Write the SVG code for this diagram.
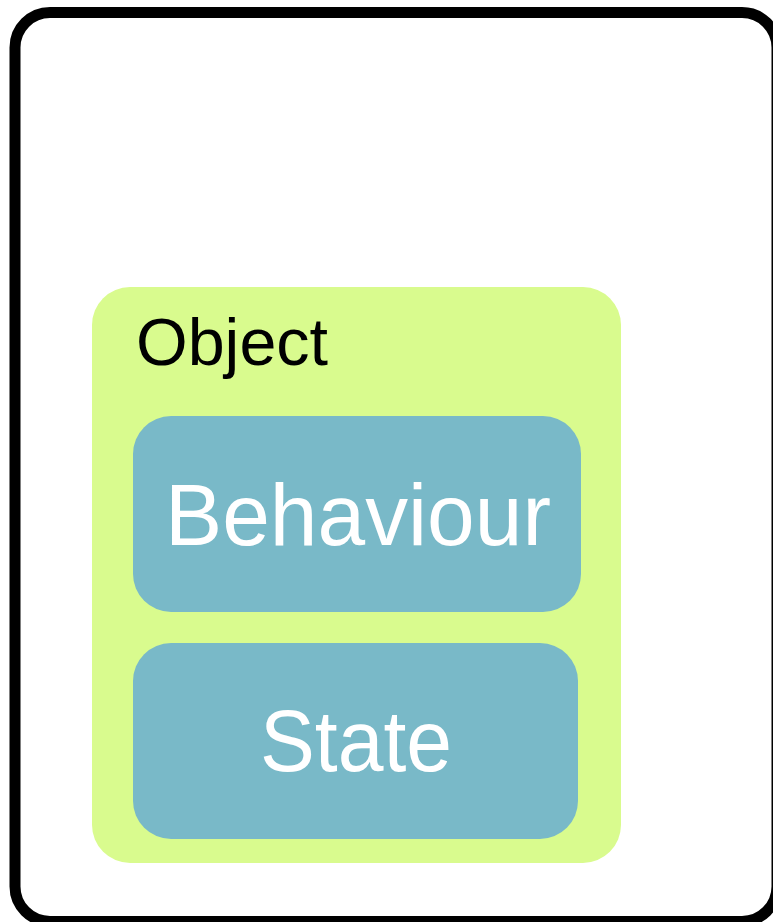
<svg xmlns="http://www.w3.org/2000/svg" width="773" height="922" viewBox="0 0 773 922">
<style>
.frame{fill:#ffffff;stroke:#000000;stroke-width:11}
.obj{fill:#d9fb8e}
.part{fill:#79b9c8}
.lbl{font-family:"Liberation Sans",Arial,sans-serif}
.obj-lbl{fill:#000000;font-size:66px}
.part-lbl{fill:#ffffff;font-size:88px;text-anchor:middle}
</style>
<rect width="773" height="922" fill="#ffffff"/>
<g id="frame">
<rect class="frame" x="15" y="12.5" width="762" height="909" rx="35" ry="35"/>
</g>
<g id="object">
<rect class="obj" x="92" y="287" width="529" height="576" rx="38" ry="38"/>
<text class="lbl obj-lbl" x="136" y="365" textLength="192" lengthAdjust="spacingAndGlyphs">Object</text>
</g>
<g id="behaviour">
<rect class="part" x="133" y="416" width="448" height="196" rx="38" ry="38"/>
<text class="lbl part-lbl" x="358" y="545" textLength="386" lengthAdjust="spacingAndGlyphs">Behaviour</text>
</g>
<g id="state">
<rect class="part" x="133" y="643" width="445" height="196" rx="38" ry="38"/>
<text class="lbl part-lbl" x="356" y="771" textLength="192" lengthAdjust="spacingAndGlyphs">State</text>
</g>
<g id="connectors"></g>
</svg>
